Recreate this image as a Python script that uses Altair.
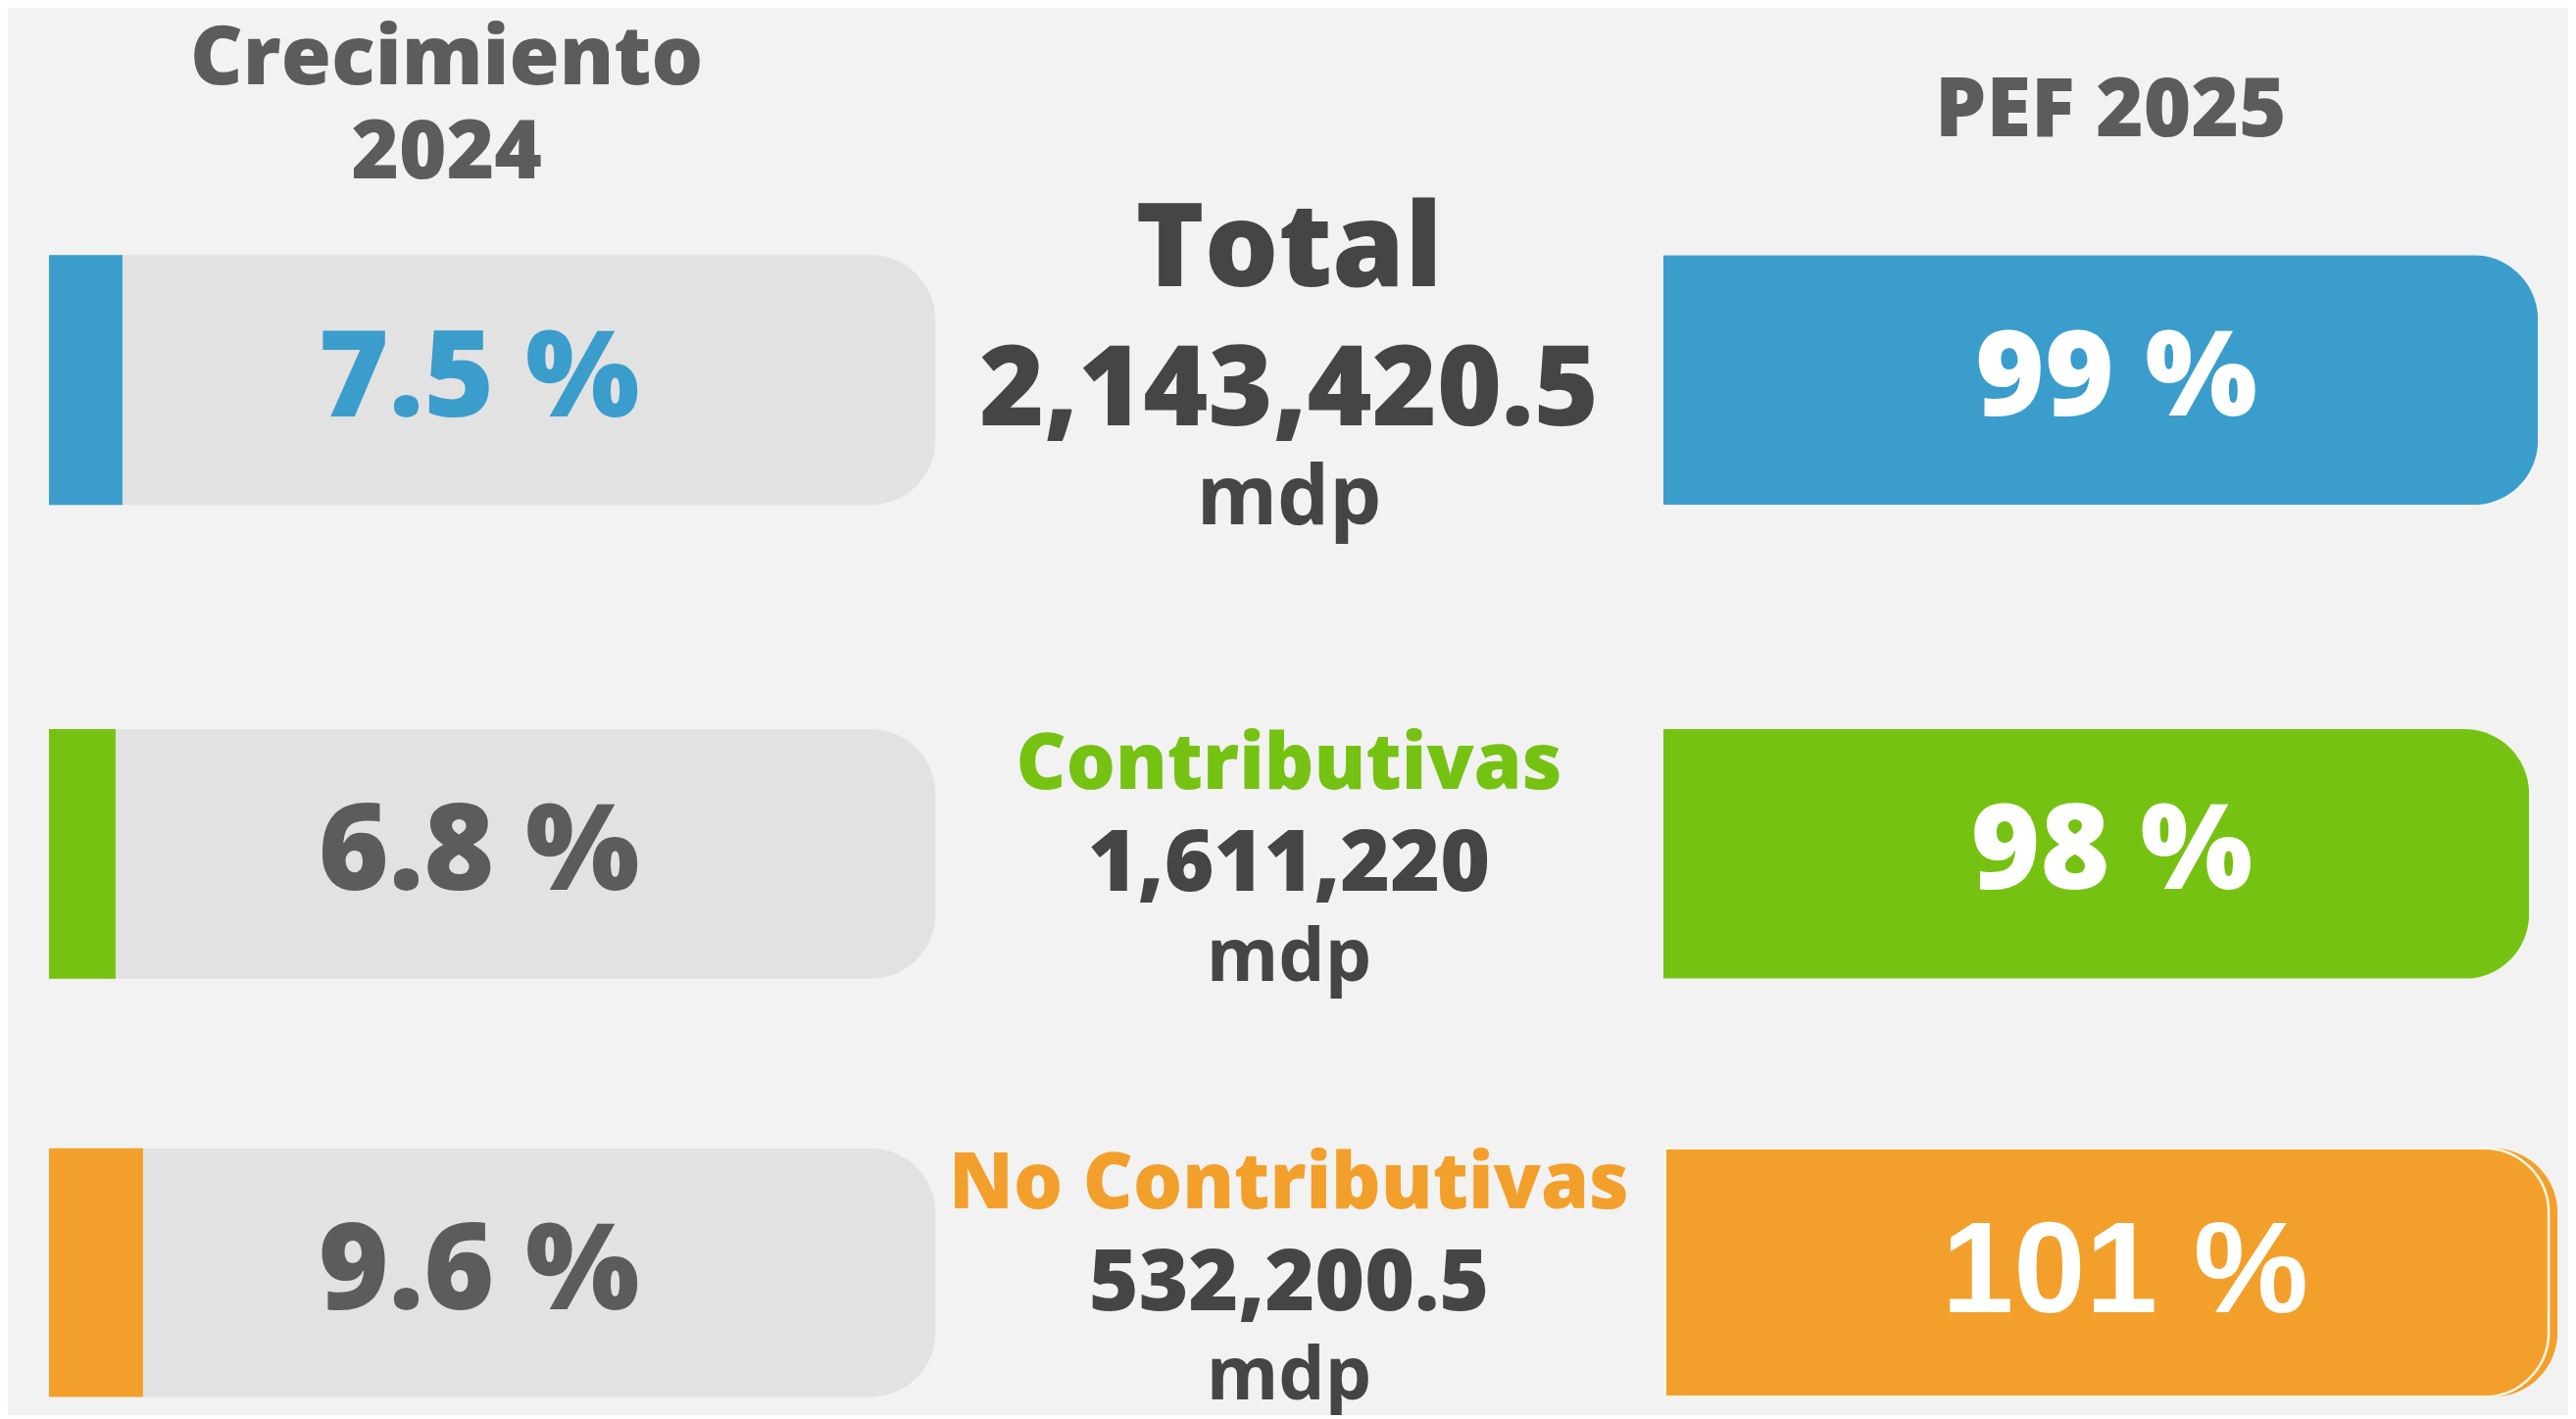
import altair as alt
import pandas as pd

# ---------------- data ----------------
categorias = ["Total", "Contributivas", "No Contributivas"]
crecimiento_2024 = [7.5, 6.8, 9.6]          # %
pef_2025 = [99, 98, 101]                    # %
montos = ["2,143,420.5", "1,611,220", "532,200.5"]
unidad = ["mdp", "mdp", "mdp"]
colores = ["#3a9dcc", "#76c212", "#f2a02b"]

encabezado_izq = ["Crecimiento", "2024"]
encabezado_der = ["PEF 2025"]

df = pd.DataFrame({
    "categoria": categorias,
    "crec": crecimiento_2024,
    "pef": pef_2025,
    "monto": montos,
    "unidad": unidad,
})
df["crec_txt"] = [f"{v} %" for v in crecimiento_2024]
df["pef_txt"] = [f"{v} %" for v in pef_2025]

# ---------------- style / layout ----------------
BG = "#f2f2f2"
GRAY_BOX = "#e2e2e2"
DARK = "#454545"
MID = "#5c5c5c"
FONT = "Open Sans"
WEIGHT = 800
W_LEFT, W_MID, W_RIGHT = 905, 743, 922
RADIUS = 66
# per-row panel height and band position inside it (pixels)
ROW_H = [621, 457, 347]
ROW_BAND = [(252, 507), (115, 370), (86, 340)]

color_enc = alt.Color("categoria:N", scale=alt.Scale(domain=categorias, range=colores), legend=None)
x_scale_l = alt.Scale(domain=[0, 90.5], nice=False, zero=True)
x_scale_r = alt.Scale(domain=[0, 102.2], nice=False, zero=True)
XM = alt.value(361)


def fila(i):
    cat = categorias[i]
    total = i == 0
    h = ROW_H[i]
    y_enc = alt.Y("categoria:N", axis=None,
                  scale=alt.Scale(type="band", domain=[cat], range=list(ROW_BAND[i]),
                                  paddingInner=0, paddingOuter=0))
    base = alt.Chart(df).transform_filter(alt.datum.categoria == cat)

    # left: growth 2024
    caja = base.mark_bar(color=GRAY_BOX, cornerRadiusTopRight=RADIUS, cornerRadiusBottomRight=RADIUS).encode(
        x=alt.value(0), x2=alt.value(W_LEFT), y=y_enc)
    acento = base.mark_bar().encode(x=alt.X("crec:Q", axis=None, scale=x_scale_l), y=y_enc, color=color_enc)
    txt_crec = base.mark_text(font=FONT, fontSize=123, fontWeight=WEIGHT, align="center",
                              baseline="middle", color=colores[0] if total else MID).encode(
        x=alt.value(439), y=y_enc, text="crec_txt:N")
    capas_l = [caja, acento, txt_crec]
    if total:
        capas_l.append(alt.Chart(pd.DataFrame({"t": ["\n".join(encabezado_izq)]})).mark_text(
            font=FONT, fontSize=83, fontWeight=WEIGHT, color=MID, align="center", baseline="middle",
            lineBreak="\n", lineHeight=96,
        ).encode(x=alt.value(406), y=alt.value(53), text="t:N"))
    left = alt.layer(*capas_l).properties(width=W_LEFT, height=h)

    # middle: label, amount, unit
    if total:
        lbl = base.mark_text(font=FONT, fontSize=119, fontWeight=WEIGHT, color=DARK, align="center",
                             baseline="middle", dy=-132).encode(x=XM, y=y_enc, text="categoria:N")
        num = base.mark_text(font=FONT, fontSize=113, fontWeight=WEIGHT, color=DARK, align="center",
                             baseline="middle", dy=12).encode(x=XM, y=y_enc, text="monto:N")
        und = base.mark_text(font=FONT, fontSize=84, fontWeight=700, color=DARK, align="center",
                             baseline="middle", dy=122).encode(x=XM, y=y_enc, text="unidad:N")
    else:
        lbl = base.mark_text(font=FONT, fontSize=79, fontWeight=WEIGHT, align="center",
                             baseline="middle", dy=-90).encode(x=XM, y=y_enc, text="categoria:N",
                                                              color=color_enc)
        num = base.mark_text(font=FONT, fontSize=87, fontWeight=WEIGHT, color=DARK, align="center",
                             baseline="middle", dy=12).encode(x=XM, y=y_enc, text="monto:N")
        und = base.mark_text(font=FONT, fontSize=75, fontWeight=700, color=DARK, align="center",
                             baseline="middle", dy=107).encode(x=XM, y=y_enc, text="unidad:N")
    middle = alt.layer(lbl, num, und).properties(width=W_MID, height=h)

    # right: PEF 2025
    barra = base.mark_bar(cornerRadiusTopRight=RADIUS, cornerRadiusBottomRight=RADIUS).encode(
        x=alt.X("pef:Q", axis=None, scale=x_scale_r), y=y_enc, color=color_enc)
    capas_r = [barra]
    if pef_2025[i] > 100:
        capas_r.append(base.transform_calculate(tope="100").mark_bar(
            cornerRadiusTopRight=RADIUS, cornerRadiusBottomRight=RADIUS, stroke="#fff6e8", strokeWidth=2.5
        ).encode(x=alt.X("tope:Q", axis=None, scale=x_scale_r), y=y_enc, color=color_enc))
        txt_font, txt_size, txt_w, txt_dx = "Liberation Sans", 132, "bold", 14
    else:
        txt_font, txt_size, txt_w, txt_dx = FONT, 121, WEIGHT, 16
    capas_r.append(base.transform_calculate(mitad="datum.pef / 2").mark_text(
        font=txt_font, fontSize=txt_size, fontWeight=txt_w, color="white", align="center",
        baseline="middle", dx=txt_dx
    ).encode(x=alt.X("mitad:Q", axis=None, scale=x_scale_r), y=y_enc, text="pef_txt:N"))
    if total:
        capas_r.append(alt.Chart(pd.DataFrame({"t": encabezado_der})).mark_text(
            font=FONT, fontSize=83, fontWeight=WEIGHT, color=MID, align="center", baseline="middle",
        ).encode(x=alt.value(457), y=alt.value(106), text="t:N"))
    right = alt.layer(*capas_r).properties(width=W_RIGHT, height=h)

    return alt.hconcat(left, middle, right, spacing=0).resolve_scale(
        x="independent", y="independent")


chart = alt.vconcat(*[fila(i) for i in range(len(categorias))], spacing=0).resolve_scale(
    x="independent", y="independent"
).properties(
    background=BG,
    padding={"left": 42, "top": 0, "right": 0, "bottom": 0},
).configure_view(stroke=None)

chart.save("out.html", embed_options={"renderer": "svg", "actions": False})
